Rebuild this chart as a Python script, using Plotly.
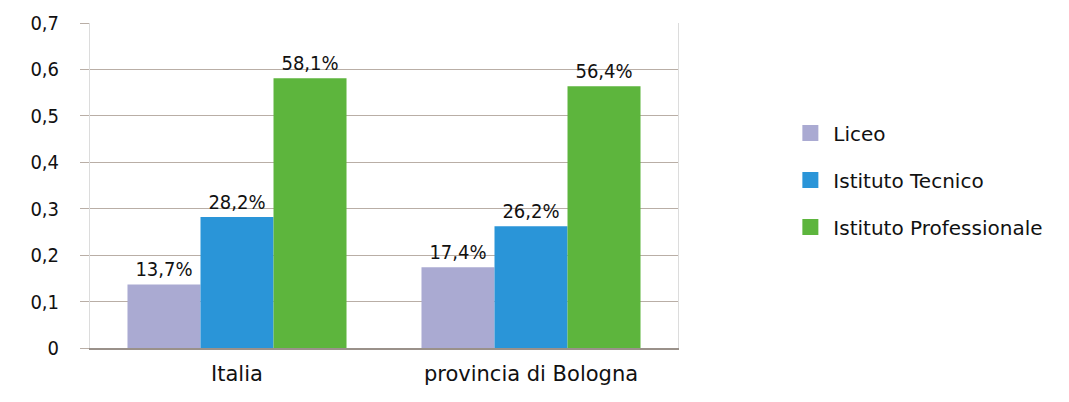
import plotly.graph_objects as go

categories = ["Italia", "provincia di Bologna"]
series_names = ["Liceo", "Istituto Tecnico", "Istituto Professionale"]
liceo = [0.137, 0.174]
tecnico = [0.282, 0.262]
professionale = [0.581, 0.564]
tick_vals = [0, 0.1, 0.2, 0.3, 0.4, 0.5, 0.6, 0.7]
tick_text = ["0", "0,1", "0,2", "0,3", "0,4", "0,5", "0,6", "0,7"]

colors = ["#aaaad2", "#2a95d8", "#5db53d"]
series_values = [liceo, tecnico, professionale]

FONT = "DejaVu Sans"
NUMFONT = "DejaVu Sans Condensed, DejaVu Sans"
fig = go.Figure()
for name, vals, col in zip(series_names, series_values, colors):
    labels = [f"{v*100:.1f}%".replace(".", ",") for v in vals]
    fig.add_trace(go.Bar(
        x=categories, y=vals, name=name, marker=dict(color=col, line=dict(width=0)),
        text=labels, textposition="outside", cliponaxis=False,
        textfont=dict(family=NUMFONT, size=20, color="#111111"),
        showlegend=False, hoverinfo="skip",
    ))
for i, (name, col) in enumerate(zip(series_names, colors)):
    fig.add_trace(go.Scatter(
        x=[None], y=[None], mode="markers", name=name, legendgroup=f"g{i}",
        marker=dict(symbol="square", size=16, color=col),
    ))

fig.update_layout(
    width=1069, height=402,
    margin=dict(l=82, r=399, t=15, b=62, autoexpand=False),
    paper_bgcolor="white", plot_bgcolor="white",
    barmode="group", bargap=0.255, bargroupgap=0,
    font=dict(family=FONT, size=20, color="#111111"),
    legend=dict(x=1.186, y=0.517, xanchor="left", yanchor="middle",
                font=dict(family=FONT, size=20, color="#111111"),
                tracegroupgap=18, itemsizing="trace", itemwidth=36),
    showlegend=True,
)
fig.update_yaxes(range=[0, 0.7], tickvals=tick_vals, ticktext=tick_text,
                 automargin=False,
                 showgrid=True, gridcolor="#b9aea6", gridwidth=1.2,
                 ticks="outside", ticklen=9, tickcolor="#b9aea6",
                 ticklabelstandoff=17,
                 showline=True, linecolor="#dcdcdc", mirror=True,
                 zeroline=False, tickfont=dict(family=NUMFONT, size=20))
fig.update_xaxes(automargin=False, showline=True, linecolor="#9a918a", linewidth=1.5,
                 ticks="", ticklabelstandoff=6,
                 tickfont=dict(family=FONT, size=21))
fig.write_html("out.html")
